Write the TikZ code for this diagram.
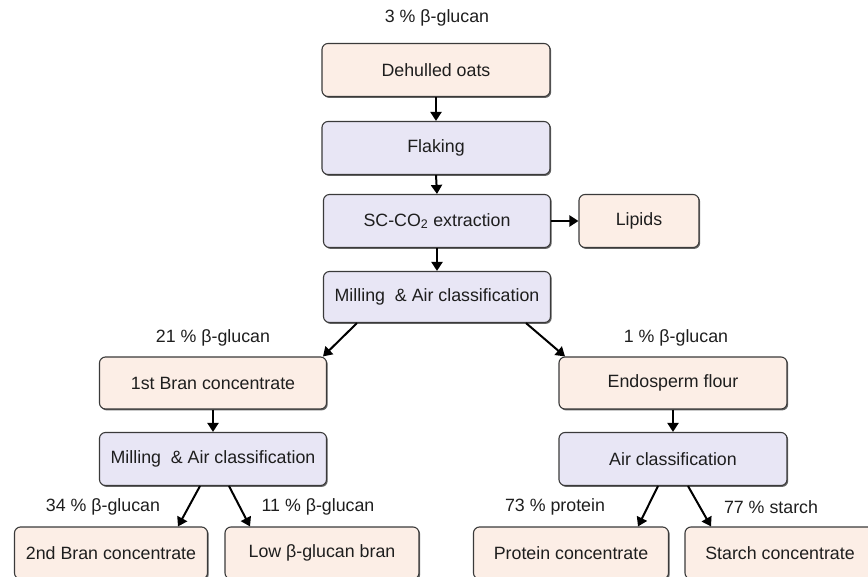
\documentclass[tikz,border=0pt]{standalone}
\usepackage{fontspec}
\setmainfont{Liberation Sans}
\usetikzlibrary{arrows.meta,shadows}
\definecolor{beige}{HTML}{FCEEE6}
\definecolor{lav}{HTML}{E8E6F5}
\definecolor{txt}{HTML}{1E1E1E}
\definecolor{edge}{HTML}{3A3A3A}
\tikzset{
  base/.style={rectangle, rounded corners=6pt, draw=edge, line width=1.1pt,
    text=txt, font=\fontsize{17.8}{20}\selectfont,
    drop shadow={shadow xshift=1.2pt, shadow yshift=-1.4pt, fill=black!75, opacity=0.8}},
  prodbox/.style={base, fill=beige},
  procbox/.style={base, fill=lav},
  lbl/.style={text=txt, font=\fontsize{17.8}{20}\selectfont, inner sep=0pt},
  arr/.style={line width=2pt, -{Triangle[length=9pt,width=11pt]}, black},
}
\begin{document}
\begin{tikzpicture}[x=1pt,y=-1pt]
\useasboundingbox (0,0) rectangle (868,577);
\clip (0,0) rectangle (868,577);
% top chain
\node[prodbox, minimum width=228pt, minimum height=53pt] (oats) at (436,70) {Dehulled oats};
\node[procbox, minimum width=228pt, minimum height=53pt] (flak) at (436,148) {Flaking};
\node[procbox, minimum width=227pt, minimum height=53pt] (sc) at (437,221) {SC-CO\textsubscript{2} extraction};
\node[prodbox, minimum width=120pt, minimum height=53pt] (lip) at (639,221) {Lipids};
\node[procbox, minimum width=227pt, minimum height=51pt] (mill) at (437,297) {Milling \ \& Air classification};
% left branch
\node[prodbox, minimum width=227pt, minimum height=52pt] (bran1) at (213,383) {1st Bran concentrate};
\node[procbox, minimum width=227pt, minimum height=53pt] (mill2) at (213,459) {Milling \ \& Air classification};
\node[prodbox, minimum width=193pt, minimum height=52pt] (bran2) at (111,553) {2nd Bran concentrate};
\node[prodbox, minimum width=194pt, minimum height=52pt] (low) at (322,553) {Low β-glucan bran};
% right branch
\node[prodbox, minimum width=228pt, minimum height=52pt] (endo) at (673,383) {Endosperm flour};
\node[procbox, minimum width=228pt, minimum height=53pt] (air) at (673,459) {Air classification};
\node[prodbox, minimum width=195pt, minimum height=52pt] (prot) at (571,553) {Protein concentrate};
\node[prodbox, minimum width=190pt, minimum height=52pt] (starch) at (780,553) {Starch concentrate};
% labels
\node[lbl] (l0) at (437,18) {3 \% β-glucan};
\node[lbl] (l1) at (213,338) {21 \% β-glucan};
\node[lbl] (l2) at (676,338) {1 \% β-glucan};
\node[lbl] (l3) at (103,507) {34 \% β-glucan};
\node[lbl] (l4) at (318,507) {11 \% β-glucan};
\node[lbl] (l5) at (555,507) {73 \% protein};
\node[lbl] (l6) at (771,507) {77 \% starch};
% arrows
\draw[arr] (oats.south) -- (flak.north);
\draw[arr] (flak.south) -- (sc.north);
\draw[arr] (sc.south) -- (mill.north);
\draw[arr] (sc.east) -- (lip.west);
\draw[arr] ([xshift=-80pt]mill.south) -- ([xshift=110pt]bran1.north);
\draw[arr] ([xshift=89pt]mill.south) -- ([xshift=-108pt]endo.north);
\draw[arr] (bran1.south) -- (mill2.north);
\draw[arr] (endo.south) -- (air.north);
\draw[arr] ([xshift=-13pt]mill2.south) -- ([xshift=67pt]bran2.north);
\draw[arr] ([xshift=16pt]mill2.south) -- ([xshift=-72pt]low.north);
\draw[arr] ([xshift=-15pt]air.south) -- ([xshift=67pt]prot.north);
\draw[arr] ([xshift=15pt]air.south) -- ([xshift=-69pt]starch.north);
\end{tikzpicture}
\end{document}
